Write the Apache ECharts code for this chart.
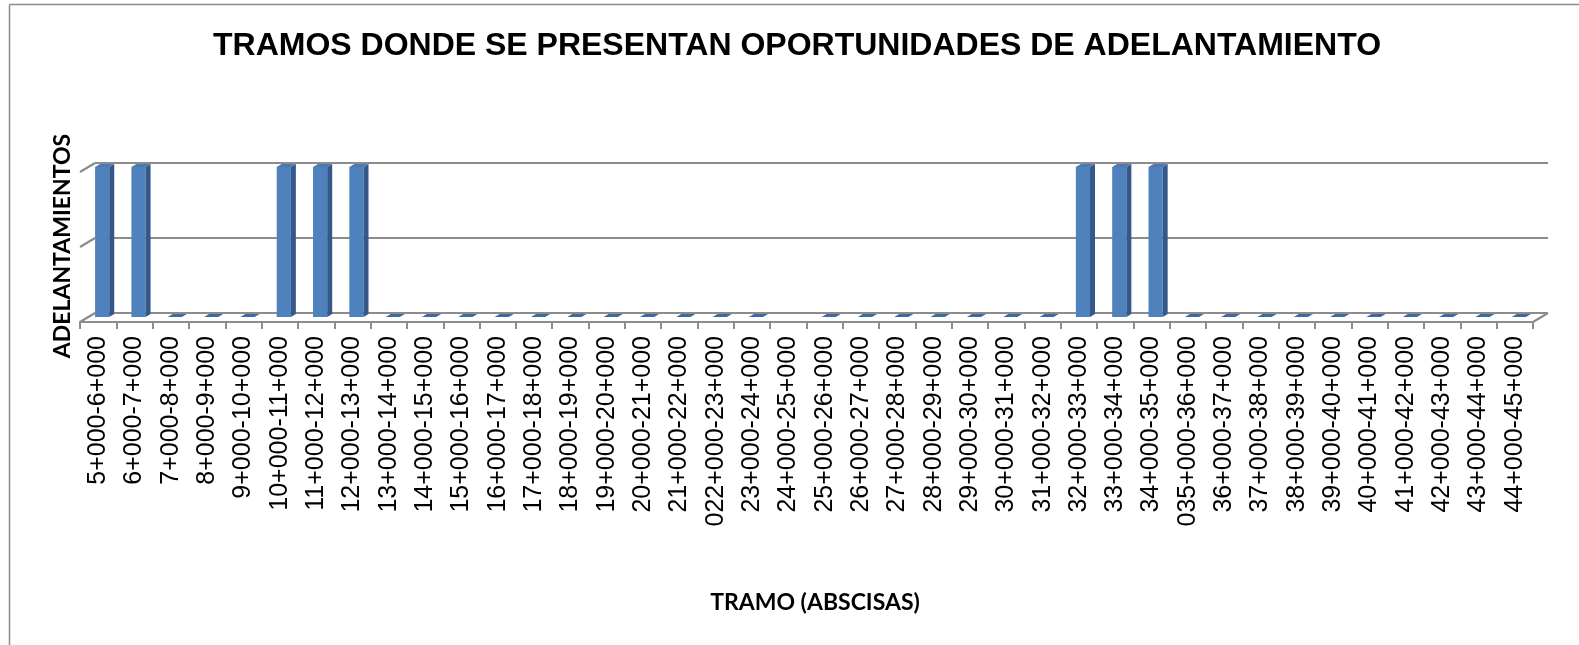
<!DOCTYPE html>
<html>
<head>
<meta charset="utf-8">
<script src="https://cdn.jsdelivr.net/npm/echarts@6/dist/echarts.min.js"></script>
<style>
html,body{margin:0;padding:0;background:#fff;}
#chart{width:1579px;height:645px;}
</style>
</head>
<body>
<div id="chart"></div>
<script>
var titleText = 'TRAMOS DONDE SE PRESENTAN OPORTUNIDADES DE ADELANTAMIENTO';
var yAxisTitle = 'ADELANTAMIENTOS';
var xAxisTitle = 'TRAMO (ABSCISAS)';

var categories = [
  '5+000-6+000','6+000-7+000','7+000-8+000','8+000-9+000','9+000-10+000',
  '10+000-11+000','11+000-12+000','12+000-13+000','13+000-14+000','14+000-15+000',
  '15+000-16+000','16+000-17+000','17+000-18+000','18+000-19+000','19+000-20+000',
  '20+000-21+000','21+000-22+000','022+000-23+000','23+000-24+000','24+000-25+000',
  '25+000-26+000','26+000-27+000','27+000-28+000','28+000-29+000','29+000-30+000',
  '30+000-31+000','31+000-32+000','32+000-33+000','33+000-34+000','34+000-35+000',
  '035+000-36+000','36+000-37+000','37+000-38+000','38+000-39+000','39+000-40+000',
  '40+000-41+000','41+000-42+000','42+000-43+000','43+000-44+000','44+000-45+000'
];

var adelantamientos = [
  1,1,0,0,0,
  1,1,1,0,0,
  0,0,0,0,0,
  0,0,0,0,null,
  0,0,0,0,0,
  0,0,1,1,1,
  0,0,0,0,0,
  0,0,0,0,0
];

var gridValues = [0, 0.5, 1];

var DEPTH_X = 15, DEPTH_Y = 9;     // back wall offset
var BAR_DX = 4, BAR_DY = 5;        // bar position inside depth
var SIDE_X = 5, SIDE_Y = 3;        // bar thickness in depth
var GRID_COLOR = '#8c8c8c';

var chart = echarts.init(document.getElementById('chart'));

function renderWalls(params, api) {
  var cs = params.coordSys;
  var x0 = cs.x, x1 = cs.x + cs.width;
  var children = [];
  gridValues.forEach(function (v) {
    var y = api.coord([0, v])[1];
    children.push({type:'line', shape:{x1:x0+DEPTH_X, y1:y-DEPTH_Y, x2:x1+DEPTH_X, y2:y-DEPTH_Y},
      style:{stroke:GRID_COLOR, lineWidth:2.2}});
    children.push({type:'line', shape:{x1:x0, y1:y, x2:x0+DEPTH_X, y2:y-DEPTH_Y},
      style:{stroke:GRID_COLOR, lineWidth:2.2}});
  });
  var yb = api.coord([0, 0])[1];
  children.push({type:'line', shape:{x1:x1, y1:yb, x2:x1+DEPTH_X, y2:yb-DEPTH_Y},
    style:{stroke:GRID_COLOR, lineWidth:2.2}});
  return {type:'group', children:children};
}

function renderBar(params, api) {
  var v = api.value(1);
  if (v === null || v === undefined || isNaN(v)) return;
  var idx = api.value(0);
  var band = api.size([1, 0])[0];
  var w = band * 0.39;
  var c = api.coord([idx, v]);
  var b = api.coord([idx, 0]);
  var xl = c[0] - w / 2 + BAR_DX;
  var xr = xl + w;
  var yt = c[1] - BAR_DY;
  var yb = b[1] - BAR_DY;
  var children = [];
  if (yb - yt > 0.5) {
    children.push({type:'polygon', shape:{points:[[xl,yt],[xr,yt],[xr,yb],[xl,yb]]},
      style:{fill:'#4f81bd'}});
    children.push({type:'polygon', shape:{points:[[xr,yt],[xr+SIDE_X,yt-SIDE_Y],[xr+SIDE_X,yb-SIDE_Y],[xr,yb]]},
      style:{fill:'#35588a'}});
  }
  children.push({type:'polygon', shape:{points:[[xl,yt],[xr,yt],[xr+SIDE_X,yt-SIDE_Y],[xl+SIDE_X,yt-SIDE_Y]]},
    style:{fill: (yb - yt > 0.5) ? '#4a79b3' : '#3d6aa3'}});
  return {type:'group', children:children};
}

var barData = adelantamientos.map(function (v, i) { return [i, v]; });

var option = {
  backgroundColor: '#ffffff',
  animation: false,
  title: {
    text: titleText,
    left: 792, top: 25, textAlign: 'center',
    textStyle: {fontFamily:'Liberation Sans', fontWeight:'bold', fontSize:32, color:'#000'}
  },
  grid: {left: 80, right: 46, top: 172, bottom: 323, containLabel: false},
  xAxis: {
    type: 'category',
    data: categories,
    boundaryGap: true,
    axisLine: {show:true, lineStyle:{color:GRID_COLOR, width:2.2}},
    axisTick: {show:true, length:7, alignWithLabel:false, lineStyle:{color:GRID_COLOR, width:2}},
    axisLabel: {interval:0, rotate:90, margin:14, color:'#000',
      fontFamily:'Liberation Sans', fontSize:25},
    splitLine: {show:false}
  },
  yAxis: {
    type: 'value', min: 0, max: 1, show: false,
    splitLine: {show:false}
  },
  graphic: [
    {type:'line', shape:{x1:9.5, y1:4.5, x2:1579, y2:4.5}, style:{stroke:'#8a8a8a', lineWidth:1.5}},
    {type:'line', shape:{x1:9.5, y1:4.5, x2:9.5, y2:645}, style:{stroke:'#8a8a8a', lineWidth:1.5}},
    {type:'text', x:63, y:246, rotation:Math.PI/2,
      style:{text:yAxisTitle, fontFamily:'Lato', fontWeight:'bold', fontSize:23, fill:'#000',
        textAlign:'center', textVerticalAlign:'middle'}},
    {type:'text', x:815, y:603,
      style:{text:xAxisTitle, fontFamily:'Lato', fontWeight:'bold', fontSize:23, fill:'#000',
        textAlign:'center', textVerticalAlign:'middle'}}
  ],
  series: [
    {type:'custom', z:1, renderItem:renderWalls, data:[[0, 0]], silent:true},
    {type:'custom', z:2, renderItem:renderBar, data:barData, encode:{x:0, y:1}, silent:true}
  ]
};
chart.setOption(option);
</script>
</body>
</html>
